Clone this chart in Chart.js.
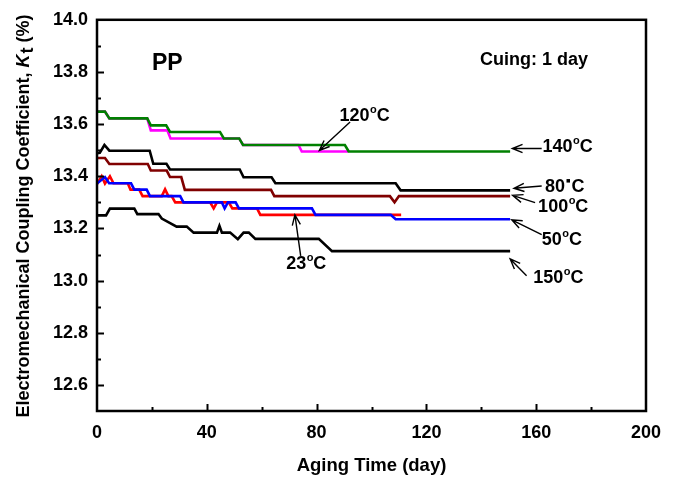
<!DOCTYPE html>
<html>
<head>
<meta charset="utf-8">
<script src="https://cdn.jsdelivr.net/npm/chart.js@4"></script>
<style>
html,body{margin:0;padding:0;background:#fff;}
#wrap{width:675px;height:477px;}
</style>
</head>
<body>
<div id="wrap"><canvas id="c" width="675" height="477"></canvas></div>
<script>
// ---- Data ----
const xTickLabels = ['0', '40', '80', '120', '160', '200'];
const yTickLabels = ['12.6', '12.8', '13.0', '13.2', '13.4', '13.6', '13.8', '14.0'];

const days140 = [0, 2.9, 4.5, 18.3, 19.6, 25.2, 26.6, 44.8, 46.2, 51.8, 53.2, 90.3, 91.7, 150.5];
const kt140   = [13.648, 13.648, 13.622, 13.622, 13.595, 13.595, 13.570, 13.570, 13.545, 13.545, 13.520, 13.520, 13.495, 13.495];

const days120 = [0, 2.9, 4.5, 18.3, 19.6, 25.6, 26.8, 51.8, 53.2, 73.4, 74.6, 91.5];
const kt120   = [13.648, 13.648, 13.622, 13.622, 13.576, 13.576, 13.545, 13.545, 13.520, 13.520, 13.495, 13.495];

const days80 = [0, 1, 2.7, 4.5, 19.2, 20.5, 25.3, 26.6, 52, 53.4, 63.6, 65, 108.8, 110.6, 150.5];
const kt80   = [13.488, 13.49, 13.52, 13.498, 13.498, 13.448, 13.448, 13.426, 13.426, 13.396, 13.396, 13.373, 13.373, 13.346, 13.346];

const days100 = [0, 2.9, 4.5, 18.5, 19.6, 25.4, 26.6, 30.7, 32, 63.4, 64.6, 106.7, 108.4, 110, 150.5];
const kt100   = [13.47, 13.47, 13.447, 13.447, 13.422, 13.422, 13.397, 13.397, 13.348, 13.348, 13.324, 13.324, 13.30, 13.324, 13.324];

const days50 = [0, 2.9, 4.4, 12.4, 13.6, 18.1, 19.3, 30.3, 31.5, 45.5, 46.5, 47.7, 50.5, 51.7, 78.3, 79.6, 107, 108.8, 150.5];
const kt50   = [13.372, 13.397, 13.373, 13.373, 13.349, 13.349, 13.324, 13.324, 13.30, 13.30, 13.277, 13.30, 13.30, 13.277, 13.277, 13.252, 13.252, 13.235, 13.235];

const days23 = [0, 1.7, 2.9, 4.7, 6.0, 11.2, 12.2, 15.4, 16.6, 23.6, 24.8, 26.0, 27.2, 28.5, 41.2, 42.5, 43.7, 48.0, 49.3, 58.3, 59.5, 110.8];
const kt23   = [13.37, 13.40, 13.372, 13.40, 13.373, 13.373, 13.349, 13.349, 13.324, 13.324, 13.35, 13.324, 13.324, 13.30, 13.30, 13.277, 13.30, 13.30, 13.277, 13.277, 13.252, 13.252];

const days150 = [0, 3.3, 4.7, 13.6, 14.7, 22.4, 23.6, 29, 32.7, 35.2, 43.7, 44.6, 45.5, 48.5, 51.3, 53.4, 55.3, 57.7, 80.8, 85.6, 150.5];
const kt150   = [13.25, 13.25, 13.276, 13.276, 13.255, 13.255, 13.238, 13.207, 13.207, 13.184, 13.184, 13.21, 13.184, 13.184, 13.159, 13.184, 13.184, 13.16, 13.16, 13.113, 13.113];

const FONT = "'Liberation Sans', Arial, sans-serif";

function pts(xs, ys) { return xs.map((x, i) => ({ x: x, y: ys[i] })); }
function ds(xs, ys, color) {
  return { data: pts(xs, ys), borderColor: color, backgroundColor: color, borderWidth: 2.6,
           pointRadius: 0, tension: 0, fill: false };
}

// Dataset 0 is drawn on top in Chart.js
const datasets = [
  ds(days140, kt140, '#008000'),
  ds(days120, kt120, '#ff00ff'),
  ds(days80, kt80, '#000000'),
  ds(days100, kt100, '#800000'),
  ds(days50, kt50, '#0000ff'),
  ds(days23, kt23, '#ff0000'),
  ds(days150, kt150, '#000000')
];

function degLabel(ctx, x, base, num, size, filledDot) {
  ctx.font = 'bold ' + size + 'px ' + FONT;
  ctx.textAlign = 'left';
  ctx.textBaseline = 'alphabetic';
  ctx.fillText(num, x, base);
  let cx = x + ctx.measureText(num).width;
  if (filledDot) {
    ctx.fillRect(cx + 1.5, base - size * 0.70, 3.5, 3.5);
    cx += 6.5;
  } else {
    const s = Math.round(size * 0.62);
    ctx.font = 'bold ' + s + 'px ' + FONT;
    ctx.fillText('o', cx + 0.5, base - size * 0.43);
    cx += ctx.measureText('o').width + 0.5;
  }
  ctx.font = 'bold ' + size + 'px ' + FONT;
  ctx.fillText('C', cx, base);
}

function arrow(ctx, x1, y1, x2, y2) {
  ctx.beginPath();
  ctx.moveTo(x1, y1);
  ctx.lineTo(x2, y2);
  const a = Math.atan2(y2 - y1, x2 - x1);
  const L = 11, h = 0.38;
  ctx.moveTo(x2 - L * Math.cos(a - h), y2 - L * Math.sin(a - h));
  ctx.lineTo(x2, y2);
  ctx.lineTo(x2 - L * Math.cos(a + h), y2 - L * Math.sin(a + h));
  ctx.stroke();
}

const deco = {
  id: 'deco',
  afterDraw(chart) {
    const ctx = chart.ctx;
    const a = chart.chartArea;
    const xs = chart.scales.x, ys = chart.scales.y;
    const X = v => xs.getPixelForValue(v);
    const Y = v => ys.getPixelForValue(v);
    ctx.save();
    ctx.strokeStyle = '#000';
    ctx.fillStyle = '#000';
    ctx.lineCap = 'butt';
    // frame
    ctx.lineWidth = 2.5;
    ctx.strokeRect(a.left, a.top, a.right - a.left, a.bottom - a.top);
    // inward ticks
    ctx.lineWidth = 2;
    ys.ticks.forEach(t => {
      const lab = (Math.round(t.value * 10) / 10).toFixed(1);
      if (t.value <= ys.min + 1e-9 || t.value >= ys.max - 1e-9) return;
      const major = yTickLabels.includes(lab);
      const p = Math.round(Y(t.value)) + 0.5;
      ctx.beginPath(); ctx.moveTo(a.left, p); ctx.lineTo(a.left + (major ? 7 : 4), p); ctx.stroke();
    });
    xs.ticks.forEach(t => {
      if (t.value <= xs.min + 1e-9 || t.value >= xs.max - 1e-9) return;
      const major = xTickLabels.includes(String(Math.round(t.value)));
      const p = Math.round(X(t.value)) + 0.5;
      ctx.beginPath(); ctx.moveTo(p, a.bottom); ctx.lineTo(p, a.bottom - (major ? 7 : 4)); ctx.stroke();
    });

    // axis titles
    ctx.textBaseline = 'alphabetic';
    ctx.font = 'bold 18.5px ' + FONT;
    ctx.textAlign = 'center';
    ctx.fillText('Aging Time (day)', (a.left + a.right) / 2, 471);

    // y title with italic K and subscript t
    const fs = 18;
    const p1 = 'Electromechanical Coupling Coefficient, ';
    const pK = 'K';
    const pt = 't';
    const p2 = ' (%)';
    ctx.save();
    ctx.translate(29, 216);
    ctx.rotate(-Math.PI / 2);
    ctx.textAlign = 'left';
    ctx.font = 'bold ' + fs + 'px ' + FONT; const w1 = ctx.measureText(p1).width;
    ctx.font = 'italic bold ' + fs + 'px ' + FONT; const wK = ctx.measureText(pK).width;
    ctx.font = 'bold ' + fs + 'px ' + FONT; const wt = ctx.measureText(pt).width;
    const w2 = ctx.measureText(p2).width;
    const total = w1 + wK + 1 + wt + w2;
    let cx = -total / 2;
    ctx.font = 'bold ' + fs + 'px ' + FONT; ctx.fillText(p1, cx, 0); cx += w1;
    ctx.font = 'italic bold ' + fs + 'px ' + FONT; ctx.fillText(pK, cx, 0); cx += wK + 1;
    ctx.font = 'bold ' + fs + 'px ' + FONT; ctx.fillText(pt, cx, 4); cx += wt;
    ctx.fillText(p2, cx, 0);
    ctx.restore();

    // panel texts
    ctx.textAlign = 'left';
    ctx.font = 'bold 23px ' + FONT;
    ctx.fillText('PP', X(20.0), Y(13.808));
    ctx.font = 'bold 18px ' + FONT;
    ctx.fillText('Cuing: 1 day', X(139.5), Y(13.827));

    // series labels
    const S = 18;
    degLabel(ctx, X(88.3), Y(13.613), '120', S, false);
    degLabel(ctx, X(162.3), Y(13.4935), '140', S, false);
    degLabel(ctx, X(163.2), Y(13.341), '80', S, true);
    degLabel(ctx, X(160.7), Y(13.2645), '100', S, false);
    degLabel(ctx, X(162.0), Y(13.137), '50', S, false);
    degLabel(ctx, X(158.9), Y(12.990), '150', S, false);
    degLabel(ctx, X(68.9), Y(13.0447), '23', S, false);

    // arrows
    ctx.lineWidth = 1.4;
    arrow(ctx, X(92.2), Y(13.608), X(81.0), Y(13.499));
    arrow(ctx, X(162.0), Y(13.5065), X(151.3), Y(13.5065));
    arrow(ctx, X(162.0), Y(13.363), X(151.9), Y(13.354));
    arrow(ctx, X(159.6), Y(13.299), X(151.4), Y(13.327));
    arrow(ctx, X(162.0), Y(13.176), X(151.1), Y(13.233));
    arrow(ctx, X(156.5), Y(13.019), X(150.5), Y(13.083));
    arrow(ctx, X(74.2), Y(13.095), X(72.1), Y(13.252));
    ctx.restore();
  }
};

new Chart(document.getElementById('c').getContext('2d'), {
  type: 'line',
  data: { datasets: datasets },
  options: {
    responsive: false,
    animation: false,
    devicePixelRatio: 1,
    layout: { padding: { top: 18, right: 29, left: 0, bottom: 0 } },
    plugins: { legend: { display: false }, tooltip: { enabled: false } },
    scales: {
      x: {
        type: 'linear', min: 0, max: 200,
        grid: { display: false, drawTicks: false },
        border: { display: false },
        ticks: {
          stepSize: 20, autoSkip: false, maxRotation: 0, padding: 11, color: '#000',
          font: { family: FONT, size: 18, weight: 'bold' },
          callback: v => { const s = String(Math.round(v)); return xTickLabels.includes(s) ? s : ''; }
        },
        afterFit: s => { s.height = 66; }
      },
      y: {
        type: 'linear', min: 12.5, max: 14.0,
        grid: { display: false, drawTicks: false },
        border: { display: false },
        ticks: {
          stepSize: 0.1, maxTicksLimit: 50, autoSkip: false, padding: 9, color: '#000',
          font: { family: FONT, size: 18, weight: 'bold' },
          callback: v => { const s = (Math.round(v * 10) / 10).toFixed(1); return yTickLabels.includes(s) ? s : ''; }
        },
        afterFit: s => { s.width = 97; }
      }
    }
  },
  plugins: [deco]
});
</script>
</body>
</html>
